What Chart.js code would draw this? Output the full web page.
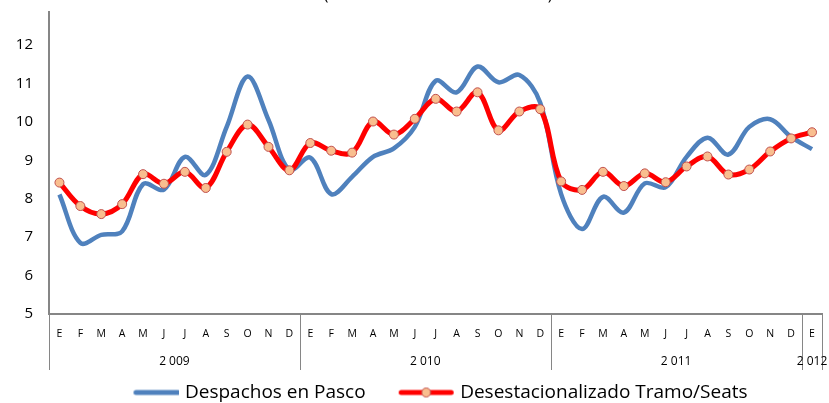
<!DOCTYPE html>
<html>
<head>
<meta charset="utf-8">
<script src="https://cdn.jsdelivr.net/npm/chart.js@4.4.1/dist/chart.umd.min.js"></script>
<style>
  html, body { margin: 0; padding: 0; background: #fff; }
  #wrap { width: 829px; height: 403px; }
</style>
</head>
<body>
<div id="wrap"><canvas id="chart"></canvas></div>
<script>
// ============================================
// DATA
// ============================================
const months = ['E','F','M','A','M','J','J','A','S','O','N','D',
                'E','F','M','A','M','J','J','A','S','O','N','D',
                'E','F','M','A','M','J','J','A','S','O','N','D',
                'E'];
const years = ['2 009', '2 010', '2 011', '2 012'];
const yearSpans = [12, 12, 12, 1];

const despachos = [8.11, 6.85, 7.06, 7.15, 8.38, 8.24, 9.09, 8.62, 9.87, 11.18, 10.05, 8.75,
                   9.07, 8.12, 8.57, 9.09, 9.31, 9.87, 11.07, 10.77, 11.44, 11.03, 11.22, 10.50,
                   8.12, 7.21, 8.05, 7.64, 8.40, 8.30, 9.09, 9.59, 9.15, 9.87, 10.07, 9.61,
                   9.29];
const desestacionalizado = [8.42, 7.81, 7.60, 7.86, 8.64, 8.39, 8.70, 8.28, 9.22, 9.93, 9.35, 8.74,
                            9.45, 9.25, 9.20, 10.01, 9.67, 10.08, 10.60, 10.27, 10.77, 9.78, 10.27, 10.33,
                            8.45, 8.23, 8.70, 8.33, 8.66, 8.43, 8.84, 9.10, 8.63, 8.76, 9.23, 9.57,
                            9.73];
const yTicks = [5, 6, 7, 8, 9, 10, 11, 12];

const BLUE = '#4F81BD';
const RED = '#FF0000';
const AXIS = '#868686';
const FONT = "'Open Sans', sans-serif";
const PAD_BOTTOM = -9;   // pushes the legend row down to the bottom edge
const AXIS_Y = 314;      // pixel row of the category axis

// ============================================
// LEGEND SYMBOLS
// ============================================
// box is 85px wide, canvas overhangs 4px each side; blank left part acts as item spacing
function legendSymbol(color, withMarker) {
  const c = document.createElement('canvas');
  c.width = 93;
  c.height = 14;
  const g = c.getContext('2d');
  g.strokeStyle = color;
  g.lineWidth = 5;
  g.lineCap = 'round';
  g.beginPath();
  g.moveTo(withMarker ? 39.5 : 49.5, 7);
  g.lineTo(withMarker ? 89.5 : 91.5, 7);
  g.stroke();
  if (withMarker) {
    g.beginPath();
    g.arc(64.5, 7, 4.5, 0, Math.PI * 2);
    g.fillStyle = '#F9BE8F';
    g.fill();
    g.lineWidth = 1;
    g.strokeStyle = '#C0504D';
    g.stroke();
  }
  return c;
}

// ============================================
// YEAR ROW + TITLE REMNANT
// ============================================
const yearRowPlugin = {
  id: 'yearRow',
  afterDraw(chart) {
    const x = chart.scales.x;
    const ctx = chart.ctx;
    const half = (x.getPixelForValue(1) - x.getPixelForValue(0)) / 2;
    const top = chart.chartArea.bottom;
    const bottom = top + 56;

    ctx.save();
    ctx.strokeStyle = AXIS;
    ctx.lineWidth = 1;
    let idx = 0;
    const edges = [x.getPixelForValue(0) - half];
    yearSpans.forEach(span => {
      idx += span;
      edges.push(x.getPixelForValue(idx - 1) + half);
    });
    edges.forEach(px => {
      ctx.beginPath();
      ctx.moveTo(Math.round(px) + 0.5, top);
      ctx.lineTo(Math.round(px) + 0.5, bottom);
      ctx.stroke();
    });

    ctx.fillStyle = '#000';
    ctx.font = '12px ' + FONT;
    ctx.textAlign = 'center';
    ctx.textBaseline = 'middle';
    years.forEach((label, i) => {
      ctx.fillText(label, (edges[i] + edges[i + 1]) / 2, top + 48);
    });

    // title text sits above the visible area; only the brackets reach in
    ctx.font = '16px ' + FONT;
    ctx.textBaseline = 'alphabetic';
    ctx.fillText('(', 326, 0);
    ctx.fillText(')', 550, 0);
    ctx.restore();
  }
};

// ============================================
// CHART
// ============================================
new Chart(document.getElementById('chart'), {
  type: 'line',
  data: {
    labels: months,
    datasets: [
      {
        label: 'Despachos en Pasco',
        data: despachos,
        borderColor: BLUE,
        backgroundColor: BLUE,
        borderWidth: 4.5,
        pointRadius: 0,
        tension: 0.35,
        order: 2
      },
      {
        label: 'Desestacionalizado Tramo/Seats',
        data: desestacionalizado,
        borderColor: RED,
        backgroundColor: '#F9BE8F',
        borderWidth: 5,
        pointRadius: 4.5,
        pointBackgroundColor: '#F9BE8F',
        pointBorderColor: '#C0504D',
        pointBorderWidth: 1,
        tension: 0.35,
        order: 1
      }
    ]
  },
  options: {
    responsive: true,
    maintainAspectRatio: false,
    animation: false,
    layout: { padding: { top: 12, right: 6, left: 15, bottom: PAD_BOTTOM } },
    plugins: {
      tooltip: { enabled: false },
      legend: {
        position: 'bottom',
        labels: {
          usePointStyle: true,
          pointStyleWidth: 85,
          padding: 0,
          color: '#000',
          font: { family: FONT, size: 19 },
          generateLabels(chart) {
            return chart.data.datasets.map((ds, i) => ({
              text: ds.label,
              pointStyle: legendSymbol(ds.borderColor, i === 1),
              fillStyle: ds.borderColor,
              strokeStyle: ds.borderColor,
              lineWidth: 0,
              hidden: false,
              datasetIndex: i,
              fontColor: '#000'
            }));
          }
        }
      }
    },
    scales: {
      x: {
        offset: true,
        grid: { display: false, drawTicks: false },
        border: { display: true, color: AXIS, width: 2 },
        ticks: {
          autoSkip: false,
          maxRotation: 0,
          padding: 14,
          color: '#000',
          font: { family: FONT, size: 10.5 }
        },
        afterFit(scale) {
          const legendH = scale.chart.legend ? scale.chart.legend.height : 0;
          scale.height = scale.chart.height - PAD_BOTTOM - AXIS_Y - legendH;
        }
      },
      y: {
        min: 5,
        max: 12.86,
        grid: { display: false, drawTicks: false },
        border: { display: true, color: AXIS, width: 2 },
        afterBuildTicks(scale) {
          scale.ticks = yTicks.map(v => ({ value: v }));
        },
        ticks: {
          padding: 16,
          color: '#000',
          font: { family: FONT, size: 15 }
        },
        afterFit(scale) {
          scale.width = 34;
          scale.paddingTop = 0;
        }
      }
    }
  },
  plugins: [yearRowPlugin]
});
</script>
</body>
</html>
